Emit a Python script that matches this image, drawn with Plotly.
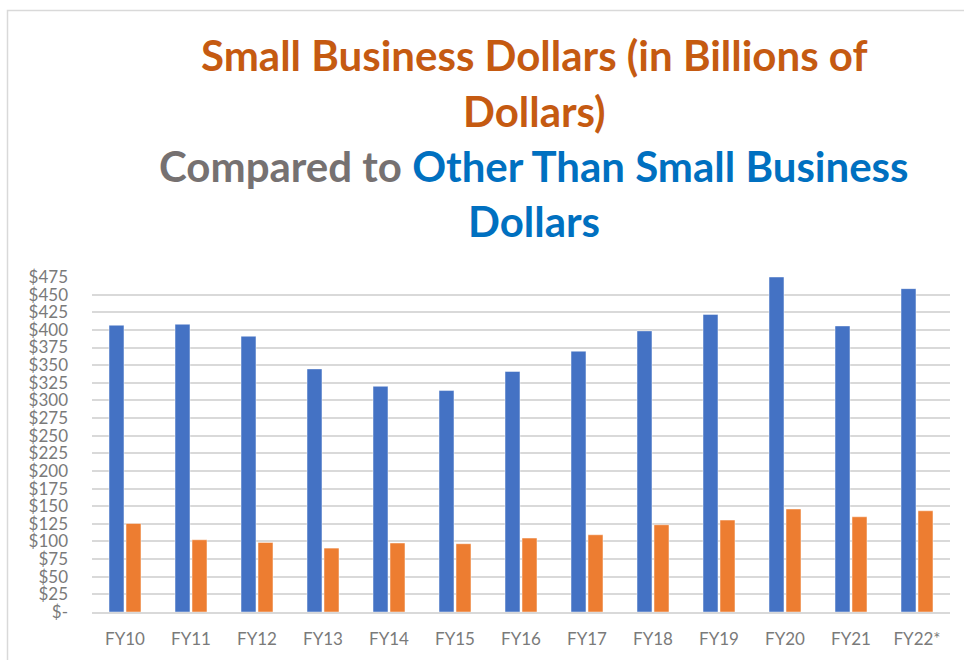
import plotly.graph_objects as go

categories = ["FY10", "FY11", "FY12", "FY13", "FY14", "FY15", "FY16",
              "FY17", "FY18", "FY19", "FY20", "FY21", "FY22*"]
other_than_small = [406.6, 408, 391, 344.7, 320, 314, 341,
                    369.8, 398.6, 422, 475, 405.6, 458.5]
small_business = [125.5, 102.4, 98.6, 90.6, 97.8, 96.8, 104.8,
                  109.5, 123.7, 130.3, 146, 135, 143.5]
y_tick_vals = list(range(0, 476, 25))
y_tick_text = ["$-"] + ["$" + str(v) for v in y_tick_vals[1:]]

FONT = "Lato, 'Open Sans', sans-serif"
L, R, T, B = 92, 14, 277, 48
W, H = 964, 660
pw, ph = W - L - R, H - T - B


def px(x):
    return (x - L) / pw


def py(y):
    return (H - B - y) / ph


fig = go.Figure()
fig.add_trace(go.Bar(x=categories, y=other_than_small, name="Other Than Small Business",
                     marker=dict(color="#4472C4", line=dict(color="rgba(255,255,255,0.45)", width=1))))
fig.add_trace(go.Bar(x=categories, y=small_business, name="Small Business",
                     marker=dict(color="#ED7D31", line=dict(color="rgba(255,255,255,0.45)", width=1))))

title_lines = [
    ("<span style='color:#C55A11'>Small Business Dollars (in Billions of</span>", 55),
    ("<span style='color:#C55A11'>Dollars)</span>", 111),
    ("<span style='color:#767171'>Compared to </span><span style='color:#0070C0'>Other Than Small Business</span>", 166),
    ("<span style='color:#0070C0'>Dollars</span>", 221),
]
for txt, yy in title_lines:
    fig.add_annotation(text="<b>" + txt + "</b>", x=px(534), y=py(yy), xref="paper", yref="paper",
                       xanchor="center", yanchor="middle", showarrow=False,
                       font=dict(family=FONT, size=42))

fig.add_shape(type="rect", xref="paper", yref="paper",
              x0=px(7.5), x1=px(980), y0=py(680), y1=py(10.5),
              line=dict(color="#D9D9D9", width=1.5), fillcolor="rgba(0,0,0,0)", layer="below")

fig.update_layout(
    width=W, height=H,
    margin=dict(l=L, r=R, t=T, b=B),
    paper_bgcolor="white", plot_bgcolor="white",
    barmode="group", bargap=0.485, bargroupgap=0.12,
    showlegend=False,
    font=dict(family=FONT, color="#7a7a7a", size=17),
)
fig.update_yaxes(range=[0, 475], tickvals=y_tick_vals, ticktext=y_tick_text,
                 showgrid=True, gridcolor="#D9D9D9", gridwidth=1.5, zeroline=False,
                 showline=False, ticks="", ticklabelstandoff=23,
                 tickfont=dict(family=FONT, size=17, color="#7a7a7a"))
fig.update_xaxes(showline=True, linecolor="#D9D9D9", linewidth=1.5, ticks="",
                 ticklabelstandoff=11,
                 tickfont=dict(family=FONT, size=17, color="#7a7a7a"))

fig.write_html("out.html")
